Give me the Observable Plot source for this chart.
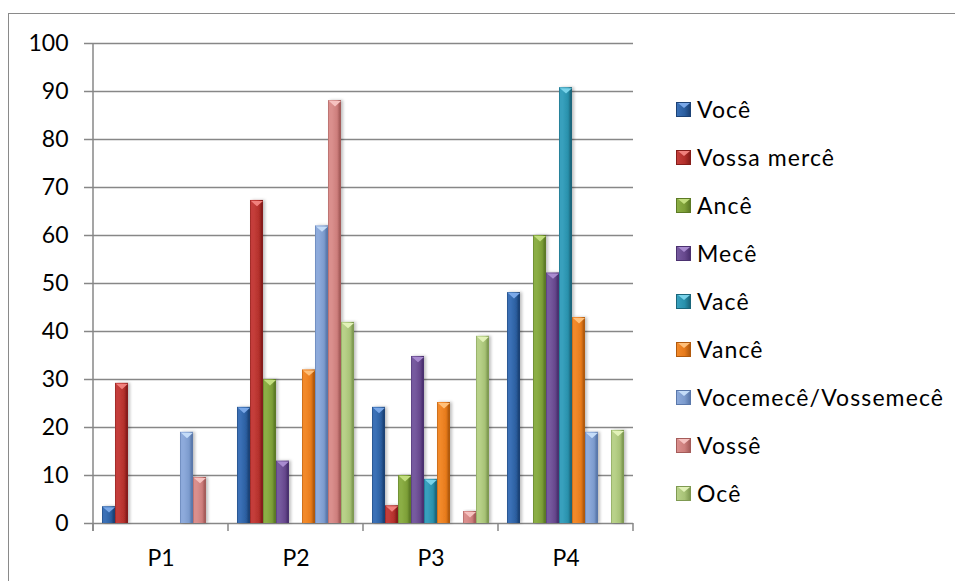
<!DOCTYPE html>
<html>
<head>
<meta charset="utf-8">
<script src="https://cdn.jsdelivr.net/npm/d3@7"></script>
<script src="https://cdn.jsdelivr.net/npm/@observablehq/plot@0.6"></script>
<style>
  html, body { margin: 0; padding: 0; background: #fff; overflow: hidden; }
  #wrap { position: relative; width: 955px; height: 581px; overflow: hidden; font-family: Lato, "Liberation Sans", sans-serif; }
  #border { position: absolute; left: 8px; top: 13px; width: 1100px; height: 800px; border: 1.5px solid #8a8a8a; box-sizing: border-box; }
  #chart { position: absolute; left: 0; top: 0; }
  #legend { position: absolute; left: 676px; top: 0; }
  .item { position: absolute; left: 0; height: 24px; display: flex; align-items: center; white-space: nowrap; font-size: 23px; letter-spacing: 1.1px; color: #000; }
  .swatch { position: relative; width: 15px; height: 15px; margin-right: 6px; box-sizing: border-box; }
  .swatch .tri { position: absolute; left: 1px; top: 0; width: 0; height: 0; border-left: 6px solid transparent; border-right: 6px solid transparent; border-top: 5px solid; }
</style>
</head>
<body>
<div id="wrap">
  <div id="border"></div>
  <div id="chart"></div>
  <div id="legend"></div>
</div>
<script>
// Groups along the x axis
const periods = ["P1", "P2", "P3", "P4"];

// Pronoun forms (one bar per form in each group)
const series = ["Você", "Vossa mercê", "Ancê", "Mecê", "Vacê", "Vancê", "Vocemecê/Vossemecê", "Vossê", "Ocê"];

// Values per form, in the order P1, P2, P3, P4
const voce       = [3.5, 24.2, 24.2, 48.1];
const vossaMerce = [29.2, 67.3, 3.7, 0];
const ance       = [0, 30, 10, 60];
const mece       = [0, 13, 34.8, 52.2];
const vace       = [0, 0, 9.2, 90.8];
const vance      = [0, 32, 25.2, 42.9];
const vocemece   = [19, 62, 0, 19];
const vosse      = [9.6, 88.1, 2.5, 0];
const oce        = [0, 41.9, 39, 19.4];

// Y axis ticks
const yTicks = [0, 10, 20, 30, 40, 50, 60, 70, 80, 90, 100];

// Bar shading: light edge, body, dark edge, and the bevel highlight on top
const baseColors  = ["#2b5e9f", "#b32f2b", "#7c9e37", "#67488d", "#2890ab", "#e67a1b", "#7c9bcd", "#cd7e7c", "#a7c276"];
const lightColors = ["#3a70b6", "#c43e3a", "#8bae45", "#765a9f", "#37a0bd", "#f2892a", "#8daadb", "#da8f8d", "#b8d189"];
const darkColors  = ["#1c4276", "#861d1a", "#5c7a25", "#4b3170", "#1a667b", "#b15a0e", "#5a78ab", "#a55c5a", "#7f9a52"];
const topColors   = ["#7aa8e8", "#f0807c", "#c2de7e", "#a98bd0", "#79d3ea", "#ffc07a", "#c4dcf8", "#f6c2c0", "#e2f2b8"];

const valuesBySeries = [voce, vossaMerce, ance, mece, vace, vance, vocemece, vosse, oce];

// Long table built from the arrays above
const rows = [];
series.forEach((s, i) => {
  periods.forEach((p, j) => {
    rows.push({series: s, period: p, value: valuesBySeries[i][j], idx: i});
  });
});
const nonZero = rows.filter(d => d.value > 0);

// Flat downward-pointing triangle used as the bevel highlight at each bar top
const bevelTop = {
  draw(ctx, size) {
    const w = Math.sqrt(size);
    ctx.moveTo(-w / 2, 0);
    ctx.lineTo(w / 2, 0);
    ctx.lineTo(0, w * 0.45);
    ctx.closePath();
  }
};

const gridColor = "#878787";

const chart = Plot.plot({
  width: 955,
  height: 581,
  marginTop: 43,
  marginBottom: 58,
  marginLeft: 92,
  marginRight: 322,
  style: {fontFamily: "Lato, 'Liberation Sans', sans-serif", fontSize: "23px", color: "#000", background: "transparent", overflow: "visible"},
  fx: {domain: periods, padding: 0},
  x: {domain: series, paddingInner: 0, paddingOuter: 0.68, axis: null},
  y: {domain: [0, 100], axis: null},
  color: {domain: series, range: series.map((_, i) => `url(#bar-grad-${i})`)},
  marks: [
    Plot.gridY(yTicks, {stroke: gridColor, strokeOpacity: 1, strokeWidth: 1.5}),
    Plot.axisY(yTicks, {tickSize: 9, tickPadding: 16, label: null, stroke: gridColor, strokeWidth: 1.5, fontSize: 23, fill: "#000"}),
    Plot.axisFx({anchor: "bottom", tickSize: 0, tickPadding: 26, label: null, fontSize: 23, fill: "#000"}),
    Plot.barY(nonZero, {fx: "period", x: "series", y: "value", fill: "series"}),
    ...series.map((s, i) => Plot.dot(nonZero.filter(d => d.series === s), {
      fx: "period", x: "series", y: "value",
      symbol: bevelTop, r: Math.sqrt(144 / Math.PI), fill: topColors[i], stroke: "none", dy: 0.5
    }))
  ]
});

document.getElementById("chart").appendChild(chart);

// Gradient definitions and a soft shadow for the bars
const svg = d3.select(chart);
const defs = svg.insert("defs", ":first-child");
series.forEach((s, i) => {
  const g = defs.append("linearGradient").attr("id", `bar-grad-${i}`).attr("x1", 0).attr("x2", 1).attr("y1", 0).attr("y2", 0);
  g.append("stop").attr("offset", "0").attr("stop-color", darkColors[i]);
  g.append("stop").attr("offset", "0.08").attr("stop-color", lightColors[i]);
  g.append("stop").attr("offset", "0.3").attr("stop-color", lightColors[i]);
  g.append("stop").attr("offset", "0.7").attr("stop-color", baseColors[i]);
  g.append("stop").attr("offset", "0.9").attr("stop-color", darkColors[i]);
  g.append("stop").attr("offset", "1").attr("stop-color", darkColors[i]);
});
const shadow = defs.append("filter").attr("id", "bar-shadow").attr("x", "-50%").attr("y", "-10%").attr("width", "200%").attr("height", "120%");
shadow.append("feDropShadow").attr("dx", 2).attr("dy", 0).attr("stdDeviation", 1.5).attr("flood-color", "#000").attr("flood-opacity", 0.25);
svg.selectAll("g[aria-label='bar'] rect").attr("filter", "url(#bar-shadow)");

// Axis lines: the vertical value axis and the category boundary ticks
const fx = chart.scale("fx");
const y = chart.scale("y");
const bw = fx.bandwidth;
const y0 = y.apply(0);
const y100 = y.apply(100);
const bounds = periods.map(p => fx.apply(p)).concat([fx.apply(periods[periods.length - 1]) + bw]);
const axes = svg.append("g").attr("stroke", gridColor).attr("stroke-width", 1.5);
axes.append("line").attr("x1", bounds[0]).attr("x2", bounds[0]).attr("y1", y100).attr("y2", y0 + 8);
bounds.forEach(b => {
  axes.append("line").attr("x1", b).attr("x2", b).attr("y1", y0).attr("y2", y0 + 8);
});

// Legend on the right
const legend = document.getElementById("legend");
series.forEach((s, i) => {
  const item = document.createElement("div");
  item.className = "item";
  item.style.top = (109 + 48 * i - 12) + "px";
  const sw = document.createElement("div");
  sw.className = "swatch";
  sw.style.background = `linear-gradient(to right, ${lightColors[i]}, ${baseColors[i]} 60%, ${darkColors[i]})`;
  sw.style.border = `1px solid ${darkColors[i]}`;
  const tri = document.createElement("div");
  tri.className = "tri";
  tri.style.borderTopColor = topColors[i];
  sw.appendChild(tri);
  const label = document.createElement("span");
  label.textContent = s;
  item.appendChild(sw);
  item.appendChild(label);
  legend.appendChild(item);
});
</script>
</body>
</html>
